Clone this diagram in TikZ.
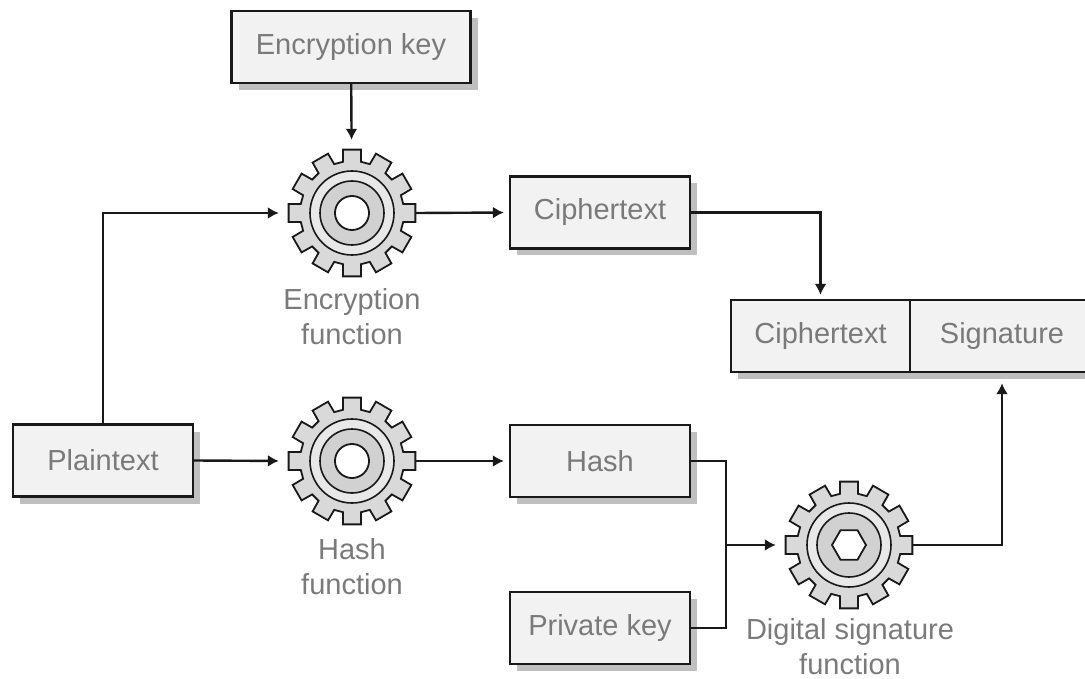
\documentclass[tikz,border=0pt]{standalone}
\usepackage{fontspec}
\setmainfont{Liberation Sans}
\usetikzlibrary{arrows.meta,shadows}

\begin{document}
\begin{tikzpicture}[x=1pt,y=-1pt,
  every node/.style={font=\fontsize{29}{35}\selectfont,text=black!52},
  boxnode/.style={draw=black!90,line width=2.4pt,fill=black!5,inner sep=0pt,
    minimum width=180pt,minimum height=72pt,
    drop shadow={shadow xshift=7pt,shadow yshift=-7pt,fill=black!25,opacity=1}},
  gearnode/.style={circle,inner sep=0pt,minimum size=128pt},
  captionnode/.style={align=center,inner sep=0pt},
  wire/.style={line width=2.4pt,draw=black!90},
  flow/.style={wire,-{Latex[length=11pt,width=12pt]}}]

\newcommand{\gear}[2][40] % [hole corners][node]
{
 \begin{scope}[shift={(#2)}]
  \draw[line width=1.8pt,draw=black!90,fill=black!15]
    (-10:52) \foreach \a in {0,30,...,330}
     { -- (\a-10:52) -- (\a-8:64) -- (\a+8:64) -- (\a+10:52) } -- cycle;
  \draw[line width=1.6pt,draw=black!90,fill=black!9] (0,0) circle (42);
  \draw[line width=1.6pt,draw=black!90,fill=black!18] (0,0) circle (32);
  \draw[line width=1.8pt,draw=black!90,fill=white]
    (0:17) \foreach \a in {1,...,#1} { -- ({\a*360/#1}:17) } -- cycle;
 \end{scope}
}

\clip (0,0) rectangle (1085,679);

% left column
\node[boxnode] (plain) at (103,460.5) {Plaintext};
\node[boxnode,minimum width=239pt] (enckey) at (351,47) {Encryption key};

% gears
\node[gearnode] (encgear) at (352,213) {};
\node[gearnode] (hashgear) at (352,461) {};
\node[gearnode] (diggear) at (849,545) {};
\gear{encgear} \gear{hashgear} \gear[6]{diggear}

\node[captionnode] (enccap) at (352,317) {Encryption\\function};
\node[captionnode] (hashcap) at (352,567) {Hash\\function};
\node[captionnode] (digcap) at (850,647) {Digital signature\\function};

% middle column
\node[boxnode] (cipher) at (600,212.5) {Ciphertext};
\node[boxnode] (hash) at (600,461) {Hash};
\node[boxnode] (privkey) at (600,628) {Private key};

% message with signature
\node[boxnode,minimum width=179pt] (cipherpart) at (820.5,336) {Ciphertext};
\node[boxnode,minimum width=184pt] (signpart) at (1002,336) {Signature};

\coordinate (join) at (726,545);

\draw[flow,shorten >=9pt] (enckey) -- (encgear);
\draw[flow,shorten >=9pt] (plain.north) |- (encgear.west);
\draw[flow,shorten >=9pt] (plain.east) -- (hashgear.west);
\draw[flow,shorten >=5pt] (encgear.east) -- (cipher.west);
\draw[flow,shorten >=5pt] (hashgear.east) -- (hash.west);
\draw[flow,shorten >=4pt] (cipher.east) -| (cipherpart.north);
\draw[wire] (hash.east) -| (join) |- (privkey.east);
\draw[flow,shorten >=9pt] (join) -- (diggear.west);
\draw[flow,shorten >=10pt] (diggear.east) -| (signpart.south);

\end{tikzpicture}
\end{document}
